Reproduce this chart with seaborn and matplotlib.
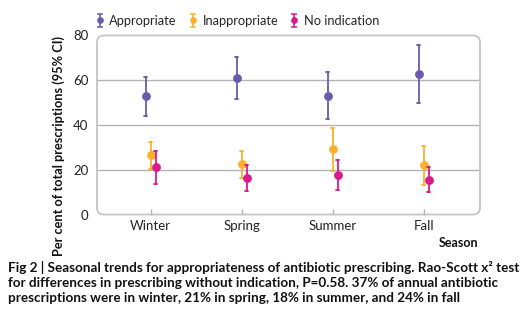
import numpy as np
import pandas as pd
import matplotlib
matplotlib.use("Agg")
import matplotlib.pyplot as plt
import seaborn as sns
from matplotlib.patches import FancyBboxPatch

seasons = ["Winter", "Spring", "Summer", "Fall"]
groups = ["Appropriate", "Inappropriate", "No indication"]
est = {
    "Appropriate":   [52.9, 60.9, 53.1, 62.7],
    "Inappropriate": [26.4, 22.4, 29.3, 22.0],
    "No indication": [21.1, 16.5, 17.8, 15.6],
}
lower = {
    "Appropriate":   [44.2, 51.7, 42.6, 49.7],
    "Inappropriate": [20.5, 16.2, 19.6, 13.2],
    "No indication": [13.8, 10.7, 11.1, 9.9],
}
upper = {
    "Appropriate":   [61.3, 70.2, 63.7, 75.6],
    "Inappropriate": [32.5, 28.6, 38.8, 30.4],
    "No indication": [28.2, 22.1, 24.5, 21.1],
}
colors = ["#6a5aab", "#fbb12a", "#d81a8c"]
yticks = [0, 20, 40, 60, 80]

rows = []
for g in groups:
    for i, s in enumerate(seasons):
        for v in (lower[g][i], est[g][i], upper[g][i]):
            rows.append({"Season": s, "Group": g, "Value": v})
df = pd.DataFrame(rows)

sns.set_theme(style="white")
plt.rcParams["font.family"] = ["Lato", "DejaVu Sans"]

fig = plt.figure(figsize=(5.24, 3.23), dpi=100)
ax = fig.add_axes([97 / 524, 1 - 214.5 / 323, 383 / 524, 179 / 323])

sns.pointplot(
    data=df, x="Season", y="Value", hue="Group", order=seasons, hue_order=groups,
    palette=colors, estimator=np.median,
    errorbar=lambda x: (np.min(x), np.max(x)),
    dodge=0.11, linestyle="none", markers="o", capsize=0.04,
    err_kws={"linewidth": 1.3}, markersize=4.3, legend=False, ax=ax,
)

ax.set_ylim(0, 80)
ax.set_xlim(-0.59, 3.62)
ax.set_yticks(yticks)
ax.set_yticklabels([str(t) for t in yticks], fontsize=9.5, color="#222222")
for t in [20, 40, 60]:
    ax.axhline(t, color="#b4b4b4", lw=1.0, zorder=0)
for sp in ax.spines.values():
    sp.set_visible(False)
frame = FancyBboxPatch((0, 0), 1, 1, boxstyle="round,pad=0,rounding_size=0.018",
                       mutation_aspect=383 / 179, transform=ax.transAxes,
                       fill=False, edgecolor="#c4c4c4", lw=1.3, clip_on=False, zorder=5)
ax.add_patch(frame)
ax.tick_params(axis="y", length=0, pad=6)
ax.tick_params(axis="x", direction="in", length=4, width=1, color="#b4b4b4",
               labelsize=9.5, labelcolor="#222222", pad=4, bottom=True)
ax.set_xlabel("")
ax.set_ylabel("Per cent of total prescriptions (95% CI)", fontsize=9.2,
              fontweight="bold", color="#111111")
ax.yaxis.set_label_coords(-32 / 383, (214.5 - 146) / 179)
fig.text(478 / 524, 1 - 243 / 323, "Season", fontsize=9, fontweight="bold",
         ha="right", va="center", color="#111111")

handles = []
for g, c in zip(groups, colors):
    h = ax.errorbar([np.nan], [np.nan], yerr=[[1.0]], fmt="o", color=c,
                    markersize=3.8, capsize=2.2, elinewidth=1.2, capthick=1.1)
    handles.append(h)
fig.legend(handles, groups, loc="center left", bbox_to_anchor=(95 / 524, 1 - 21 / 323),
           ncol=3, frameon=False, fontsize=9.3, handlelength=0.7, handletextpad=0.4,
           columnspacing=0.9, borderaxespad=0, borderpad=0, handleheight=0.9)

caption = ("Fig 2 | Seasonal trends for appropriateness of antibiotic prescribing. Rao-Scott x\u00b2 test\n"
           "for differences in prescribing without indication, P=0.58. 37% of annual antibiotic\n"
           "prescriptions were in winter, 21% in spring, 18% in summer, and 24% in fall")
fig.text(8 / 524, 1 - 261 / 323, caption, fontsize=9.75, fontweight="bold",
         ha="left", va="top", color="#111111", linespacing=1.32)

fig.savefig("out.png", dpi=100)
